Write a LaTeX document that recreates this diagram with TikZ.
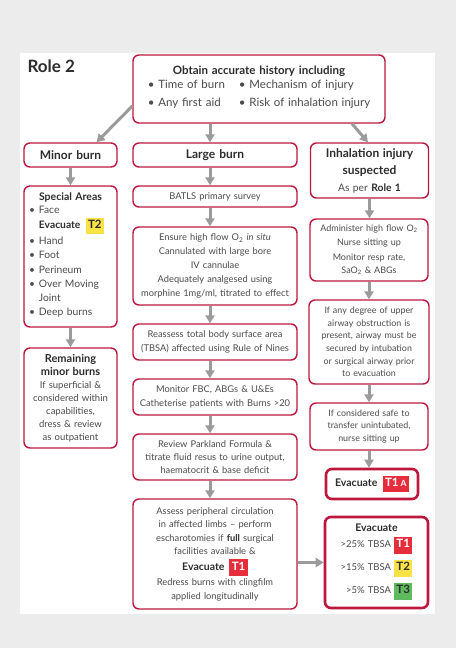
\documentclass[tikz,border=0pt]{standalone}
\usepackage{fontspec}
\setmainfont{Lato}
\usetikzlibrary{arrows.meta}

\definecolor{bred}{RGB}{188,24,62}
\definecolor{agray}{RGB}{155,155,155}
\definecolor{pgray}{RGB}{236,236,236}
\definecolor{txt}{RGB}{75,75,75}
\definecolor{htxt}{RGB}{45,45,45}
\definecolor{tred}{RGB}{230,45,60}
\definecolor{tyel}{RGB}{250,225,70}
\definecolor{tgrn}{RGB}{95,185,95}

% coloured triage tag
\newcommand\badge[3]{{\fontsize{11.5}{12}\selectfont\setlength\fboxsep{2.4pt}\colorbox{#1}{\color{#2}\bfseries\strut #3}}}

\begin{document}
\begin{tikzpicture}[
    x=1pt, y=-1pt,
    box/.style={draw=bred, line width=1.4pt, rounded corners=6pt, fill=white,
                align=center, inner xsep=3pt, inner ysep=2pt, text=txt,
                font=\fontsize{9.3}{13.8}\selectfont},
    bigbox/.style={box, line width=2.6pt},
    head/.style={text=htxt, font=\fontsize{12}{14}\selectfont\bfseries},
    flow/.style={-{Triangle[length=8pt,width=9pt]}, line width=3pt, draw=agray},
]

% ---- page ----
\fill[pgray] (0,0) rectangle (456,648);
\fill[white] (20,53) rectangle (435,614);

\node[anchor=base west, text=htxt, font=\fontsize{17}{20}\selectfont\bfseries] (title) at (24,72) {Role 2};

% ---- top ----
\node[box, minimum width=252pt, minimum height=68pt, text width=246pt,
      font=\fontsize{11.5}{18.5}\selectfont] (hist) at (259,89) {%
  {\bfseries\color{htxt}Obtain accurate history including}\\[-2pt]
  \begin{tabular}{@{}l@{\hspace{14pt}}l@{}}
    \textbullet\ Time of burn & \textbullet\ Mechanism of injury\\
    \textbullet\ Any first aid & \textbullet\ Risk of inhalation injury
  \end{tabular}};

% ---- left column ----
\node[box, head, minimum width=93pt, minimum height=24pt, text width=87pt] (minor) at (70.5,155) {Minor burn};

\node[box, align=left, minimum width=93pt, minimum height=141pt, text width=87pt,
      font=\fontsize{10.3}{14.3}\selectfont] (special) at (70.5,256.5) {%
  {\centering\bfseries\fontsize{10.5}{14}\selectfont\color{htxt}Special Areas\par}
  \hspace*{2pt}\begin{tabular}{@{}l@{\hspace{4pt}}l@{}}
    \textbullet & Face\\
     & {\bfseries\color{htxt}Evacuate}\, \badge{tyel}{htxt}{T2}\\
    \textbullet & Hand\\
    \textbullet & Foot\\
    \textbullet & Perineum\\
    \textbullet & Over Moving\\
     & Joint\\
    \textbullet & Deep burns
  \end{tabular}};

\node[box, minimum width=93pt, minimum height=100pt, text width=87pt,
      font=\fontsize{9.5}{13}\selectfont] (remain) at (70.5,398) {%
  {\bfseries\fontsize{11}{13}\selectfont\color{htxt}Remaining\\ minor burns}\\
  If superficial \&\\ considered within\\ capabilities,\\ dress \& review\\ as outpatient};

% ---- middle column ----
\node[box, head, minimum width=164pt, minimum height=24pt, text width=158pt] (large) at (215,155) {Large burn};

\node[box, minimum width=164pt, minimum height=21pt, text width=158pt] (batls) at (215,196.5) {BATLS primary survey};

\node[box, minimum width=164pt, minimum height=78pt, text width=158pt] (ensure) at (215,266) {%
  Ensure high flow O\textsubscript{2} \textit{in situ}\\
  Cannulated with large bore\\ IV cannulae\\
  Adequately analgesed using\\ morphine 1mg/ml, titrated to effect};

\node[box, minimum width=164pt, minimum height=36pt, text width=158pt] (reassess) at (215,342) {%
  Reassess total body surface area\\ (TBSA) affected using Rule of Nines};

\node[box, minimum width=164pt, minimum height=36pt, text width=158pt] (monitor) at (215,397) {%
  Monitor FBC, ABGs \& U\&Es\\ Catheterise patients with Burns >20};

\node[box, minimum width=164pt, minimum height=46pt, text width=158pt, font=\fontsize{9.3}{12.8}\selectfont] (parkland) at (215,457) {%
  Review Parkland Formula \&\\ titrate fluid resus to urine output,\\ haematocrit \& base deficit};

\node[box, minimum width=164pt, minimum height=110pt, text width=158pt, font=\fontsize{9.3}{13.5}\selectfont] (assess) at (215,554) {%
  Assess peripheral circulation\\ in affected limbs -- perform\\
  escharotomies if {\bfseries\color{htxt}full} surgical\\ facilities available \&\\[2pt]
  {\bfseries\fontsize{10.5}{13}\selectfont\color{htxt}Evacuate\, \badge{tred}{white}{T1}}\\[2pt]
  Redress burns with clingfilm\\ applied longitudinally};

% ---- right column ----
\node[box, minimum width=118pt, minimum height=55pt, text width=112pt,
      font=\fontsize{10.3}{17}\selectfont] (inhal) at (369.5,170.5) {%
  {\bfseries\fontsize{12}{13.5}\selectfont\color{htxt}Inhalation injury\\ suspected}\\
  As per {\bfseries\color{htxt}Role 1}};

\node[box, minimum width=118pt, minimum height=62pt, text width=112pt, font=\fontsize{9}{14}\selectfont] (admin) at (369,250) {%
  Administer high flow O\textsubscript{2}\\ Nurse sitting up\\[1pt]
  Monitor resp rate,\\[-1pt] SaO\textsubscript{2} \& ABGs};

\node[box, minimum width=118pt, minimum height=84pt, text width=114pt,
      font=\fontsize{8.9}{12.6}\selectfont] (airway) at (369,342) {%
  If any degree of upper\\ airway obstruction is\\ present, airway must be\\
  secured by intubation\\ or surgical airway prior\\ to evacuation};

\node[box, minimum width=118pt, minimum height=47pt, text width=112pt,
      font=\fontsize{8.9}{12.6}\selectfont] (safe) at (369,426.5) {%
  If considered safe to\\ transfer unintubated,\\ nurse sitting up};

\node[bigbox, text=htxt, font=\fontsize{10.5}{13}\selectfont\bfseries, minimum width=92pt, minimum height=30pt, text width=86pt] (evacA) at (372,484) {%
  Evacuate\, \badge{tred}{white}{T1\,{\fontsize{8.5}{9}\selectfont A}}};

\node[bigbox, minimum width=103pt, minimum height=91pt, text width=97pt,
      font=\fontsize{9.5}{23}\selectfont] (evacT) at (376.5,562.5) {%
  {\bfseries\fontsize{10.5}{12}\selectfont\color{htxt}Evacuate}\\[-1pt]
  \begin{tabular}{@{}r@{\hspace{3pt}}l@{}}
    >25\% TBSA & \badge{tred}{white}{T1}\\
    >15\% TBSA & \badge{tyel}{htxt}{T2}\\
    >5\% TBSA  & \badge{tgrn}{htxt}{T3}
  \end{tabular}};

% ---- arrows ----
\draw[flow] ([yshift=-17pt]hist.west) -- ([xshift=26pt]minor.north);
\draw[flow] ([xshift=-49pt]hist.south) -- ([xshift=-5pt]large.north);
\draw[flow] ([xshift=93pt]hist.south) -- ([xshift=-1.5pt]inhal.north);

\foreach \a/\b in {minor/special, special/remain}
  \draw[flow] (\a.south) -- (\b.north);

\foreach \a/\b in {large/batls, batls/ensure, ensure/reassess, reassess/monitor,
                   monitor/parkland, parkland/assess}
  \draw[flow] ([xshift=-5pt]\a.south) -- ([xshift=-5pt]\b.north);

\foreach \a/\b in {inhal/admin, admin/airway, airway/safe}
  \draw[flow] (\a.south) -- (\a.south |- \b.north);
\draw[flow] (safe.south) -- (safe.south |- evacA.north);

\draw[flow] (evacT.west -| assess.east) -- (evacT.west);

\end{tikzpicture}
\end{document}
